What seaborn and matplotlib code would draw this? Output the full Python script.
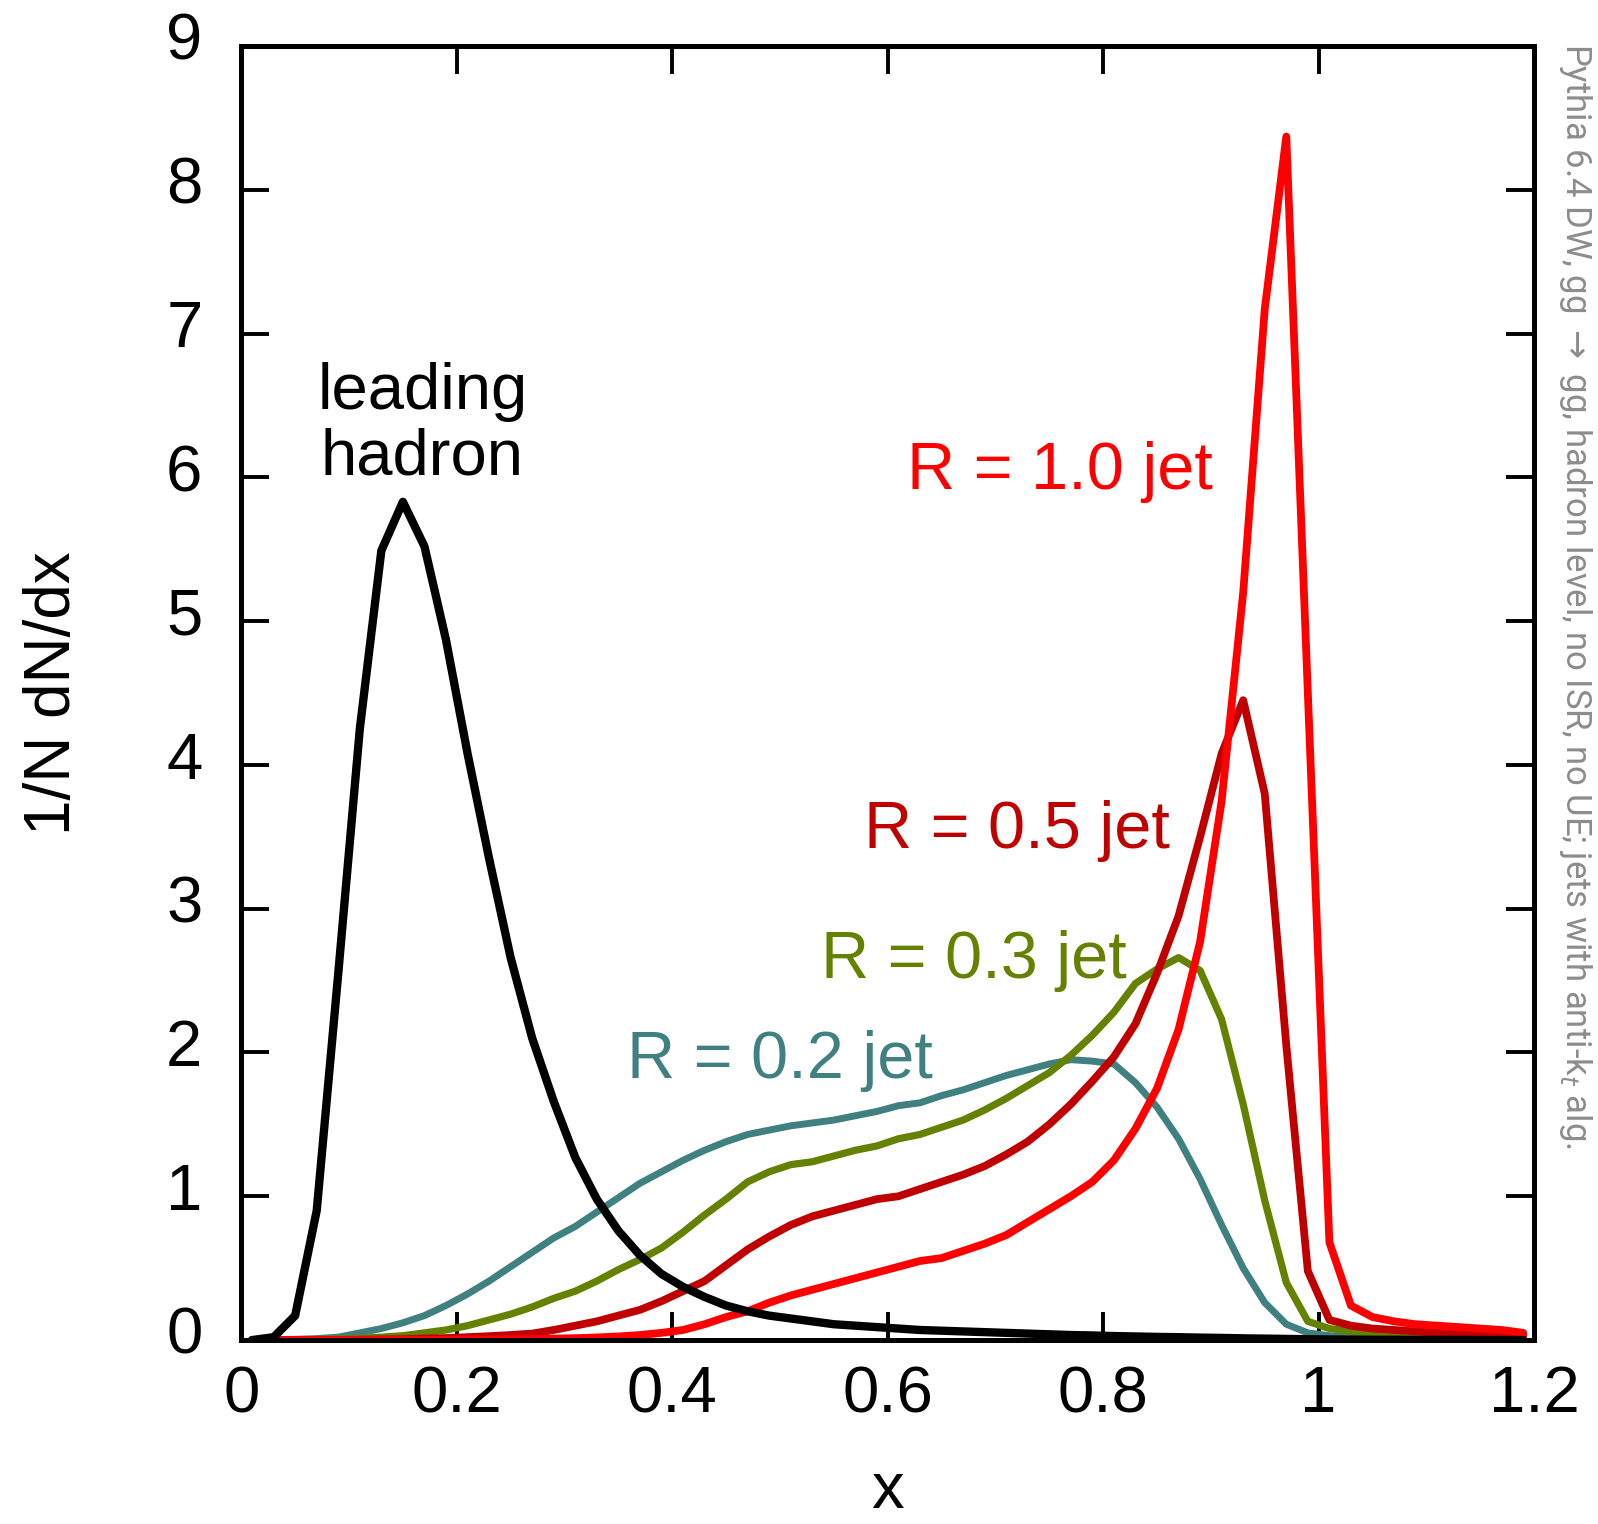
import numpy as np
import pandas as pd
import matplotlib
matplotlib.use("Agg")
import matplotlib.pyplot as plt
import matplotlib.transforms as mtransforms
import seaborn as sns

# bin centres (bins of width 0.02)
x_bins = [round(0.01 + 0.02 * i, 2) for i in range(60)]

leading_hadron = [0.0, 0.02, 0.17, 0.9, 2.55, 4.25, 5.49, 5.83, 5.52, 4.87,
                  4.08, 3.35, 2.66, 2.1, 1.66, 1.27, 0.98, 0.76, 0.59, 0.46,
                  0.37, 0.3, 0.24, 0.2, 0.17, 0.15, 0.13, 0.11, 0.1, 0.09,
                  0.08, 0.07, 0.065, 0.06, 0.055, 0.05, 0.045, 0.04, 0.035, 0.032,
                  0.028, 0.025, 0.022, 0.02, 0.017, 0.015, 0.012, 0.01, 0.008, 0.006,
                  0.004, 0.003, 0.002, 0.002, 0.001, 0.001, 0.001, 0.0, 0.0, 0.0]

jet_r02 = [0.0, 0.0, 0.005, 0.01, 0.02, 0.05, 0.08, 0.12, 0.17, 0.24,
           0.32, 0.41, 0.51, 0.61, 0.71, 0.79, 0.89, 0.99, 1.09, 1.17,
           1.25, 1.32, 1.38, 1.43, 1.46, 1.49, 1.51, 1.53, 1.56, 1.59,
           1.63, 1.65, 1.70, 1.74, 1.79, 1.84, 1.88, 1.92, 1.95, 1.94,
           1.92, 1.79, 1.62, 1.40, 1.12, 0.80, 0.50, 0.26, 0.11, 0.05,
           0.03, 0.02, 0.015, 0.012, 0.01, 0.01, 0.008, 0.006, 0.005, 0.004]

jet_r03 = [0.0, 0.0, 0.0, 0.003, 0.007, 0.012, 0.02, 0.03, 0.05, 0.07,
           0.1, 0.14, 0.18, 0.23, 0.29, 0.34, 0.41, 0.49, 0.56, 0.64,
           0.75, 0.87, 0.98, 1.1, 1.17, 1.22, 1.24, 1.28, 1.32, 1.35,
           1.40, 1.43, 1.48, 1.53, 1.60, 1.68, 1.77, 1.86, 1.98, 2.12,
           2.28, 2.48, 2.58, 2.66, 2.57, 2.23, 1.64, 0.97, 0.40, 0.13,
           0.08, 0.06, 0.05, 0.04, 0.035, 0.03, 0.025, 0.02, 0.015, 0.01]

jet_r05 = [0.0, 0.0, 0.0, 0.0, 0.0, 0.002, 0.004, 0.006, 0.01, 0.014,
           0.02, 0.027, 0.035, 0.045, 0.07, 0.1, 0.13, 0.17, 0.21, 0.27,
           0.34, 0.41, 0.52, 0.63, 0.72, 0.8, 0.86, 0.9, 0.94, 0.98,
           1.0, 1.05, 1.1, 1.15, 1.21, 1.29, 1.38, 1.5, 1.64, 1.8,
           1.97, 2.2, 2.55, 2.95, 3.5, 4.08, 4.45, 3.8, 2.05, 0.48,
           0.14, 0.1, 0.08, 0.07, 0.06, 0.05, 0.045, 0.04, 0.035, 0.03]

jet_r10 = [0.0, 0.0, 0.0, 0.0, 0.0, 0.0, 0.0, 0.001, 0.001, 0.002,
           0.003, 0.004, 0.005, 0.007, 0.01, 0.013, 0.018, 0.025, 0.035, 0.05,
           0.07, 0.11, 0.16, 0.2, 0.26, 0.31, 0.35, 0.39, 0.43, 0.47,
           0.51, 0.55, 0.57, 0.62, 0.67, 0.73, 0.82, 0.91, 1.0, 1.1,
           1.25, 1.47, 1.75, 2.16, 2.77, 3.75, 5.2, 7.17, 8.37, 4.5,
           0.68, 0.24, 0.16, 0.13, 0.11, 0.1, 0.09, 0.08, 0.07, 0.05]

series_names = ["R = 0.2 jet", "R = 0.3 jet", "R = 0.5 jet", "R = 1.0 jet", "leading hadron"]
series_values = [jet_r02, jet_r03, jet_r05, jet_r10, leading_hadron]
colors = {"R = 0.2 jet": "#408080", "R = 0.3 jet": "#648200",
          "R = 0.5 jet": "#c00000", "R = 1.0 jet": "#ff0000",
          "leading hadron": "#000000"}
widths = {"R = 0.2 jet": 5.0, "R = 0.3 jet": 5.2, "R = 0.5 jet": 5.6,
          "R = 1.0 jet": 5.6, "leading hadron": 6.0}

df = pd.concat([pd.DataFrame({"x": x_bins, "y": v, "series": n})
                for n, v in zip(series_names, series_values)], ignore_index=True)

sns.set_style("ticks")
plt.rcParams['font.family'] = ['Liberation Sans', 'DejaVu Sans']
plt.rcParams['text.color'] = 'black'
plt.rcParams['axes.labelcolor'] = 'black'
plt.rcParams['xtick.color'] = 'black'
plt.rcParams['ytick.color'] = 'black'

fig = plt.figure(figsize=(15.98, 15.24), dpi=100)
ax = fig.add_axes([0.151, 0.1207, 0.809, 0.8491])

for name in series_names:
    sns.lineplot(data=df[df["series"] == name], x="x", y="y",
                 color=colors[name], linewidth=widths[name], legend=False,
                 estimator=None, sort=False, ax=ax)

ax.set_xlim(0, 1.2)
ax.set_ylim(0, 9)
ax.set_xticks([0, 0.2, 0.4, 0.6, 0.8, 1.0, 1.2])
ax.set_xticklabels(["0", "0.2", "0.4", "0.6", "0.8", "1", "1.2"])
ax.set_yticks(range(10))
ax.tick_params(direction="in", length=20, width=2.8, labelsize=47,
               top=True, right=True, pad=18, colors="black")
ax.tick_params(axis="y", pad=28)
for s in ax.spines.values():
    s.set_linewidth(3.6)
    s.set_color("black")

# y tick labels sit a little above their ticks in the original
shift = mtransforms.ScaledTranslation(0, 7 / 72, fig.dpi_scale_trans)
for lbl in ax.get_yticklabels():
    lbl.set_transform(lbl.get_transform() + shift)

ax.set_xlabel("x", fontsize=47, labelpad=26)
ax.set_ylabel("1/N dN/dx", fontsize=46, labelpad=60)

# curve labels
ax.text(0.168, 6.02, "leading\nhadron", color="black", fontsize=47,
        ha="center", va="baseline", linespacing=1.12)
ax.text(0.76, 5.92, "R = 1.0 jet", color=colors["R = 1.0 jet"], fontsize=48,
        ha="center", va="baseline")
ax.text(0.72, 3.42, "R = 0.5 jet", color=colors["R = 0.5 jet"], fontsize=48,
        ha="center", va="baseline")
ax.text(0.68, 2.52, "R = 0.3 jet", color=colors["R = 0.3 jet"], fontsize=48,
        ha="center", va="baseline")
ax.text(0.50, 1.82, "R = 0.2 jet", color=colors["R = 0.2 jet"], fontsize=48,
        ha="center", va="baseline")

fig.text(0.986, 0.972, r"Pythia 6.4 DW, gg $\rightarrow$ gg, hadron level, no ISR, no UE; jets with anti-k$_t$ alg.",
         rotation=270, ha="center", va="top", color="#8c8c8c", fontsize=25,
         family=["Roboto", "DejaVu Sans"])

fig.savefig("out.png", dpi=100)
